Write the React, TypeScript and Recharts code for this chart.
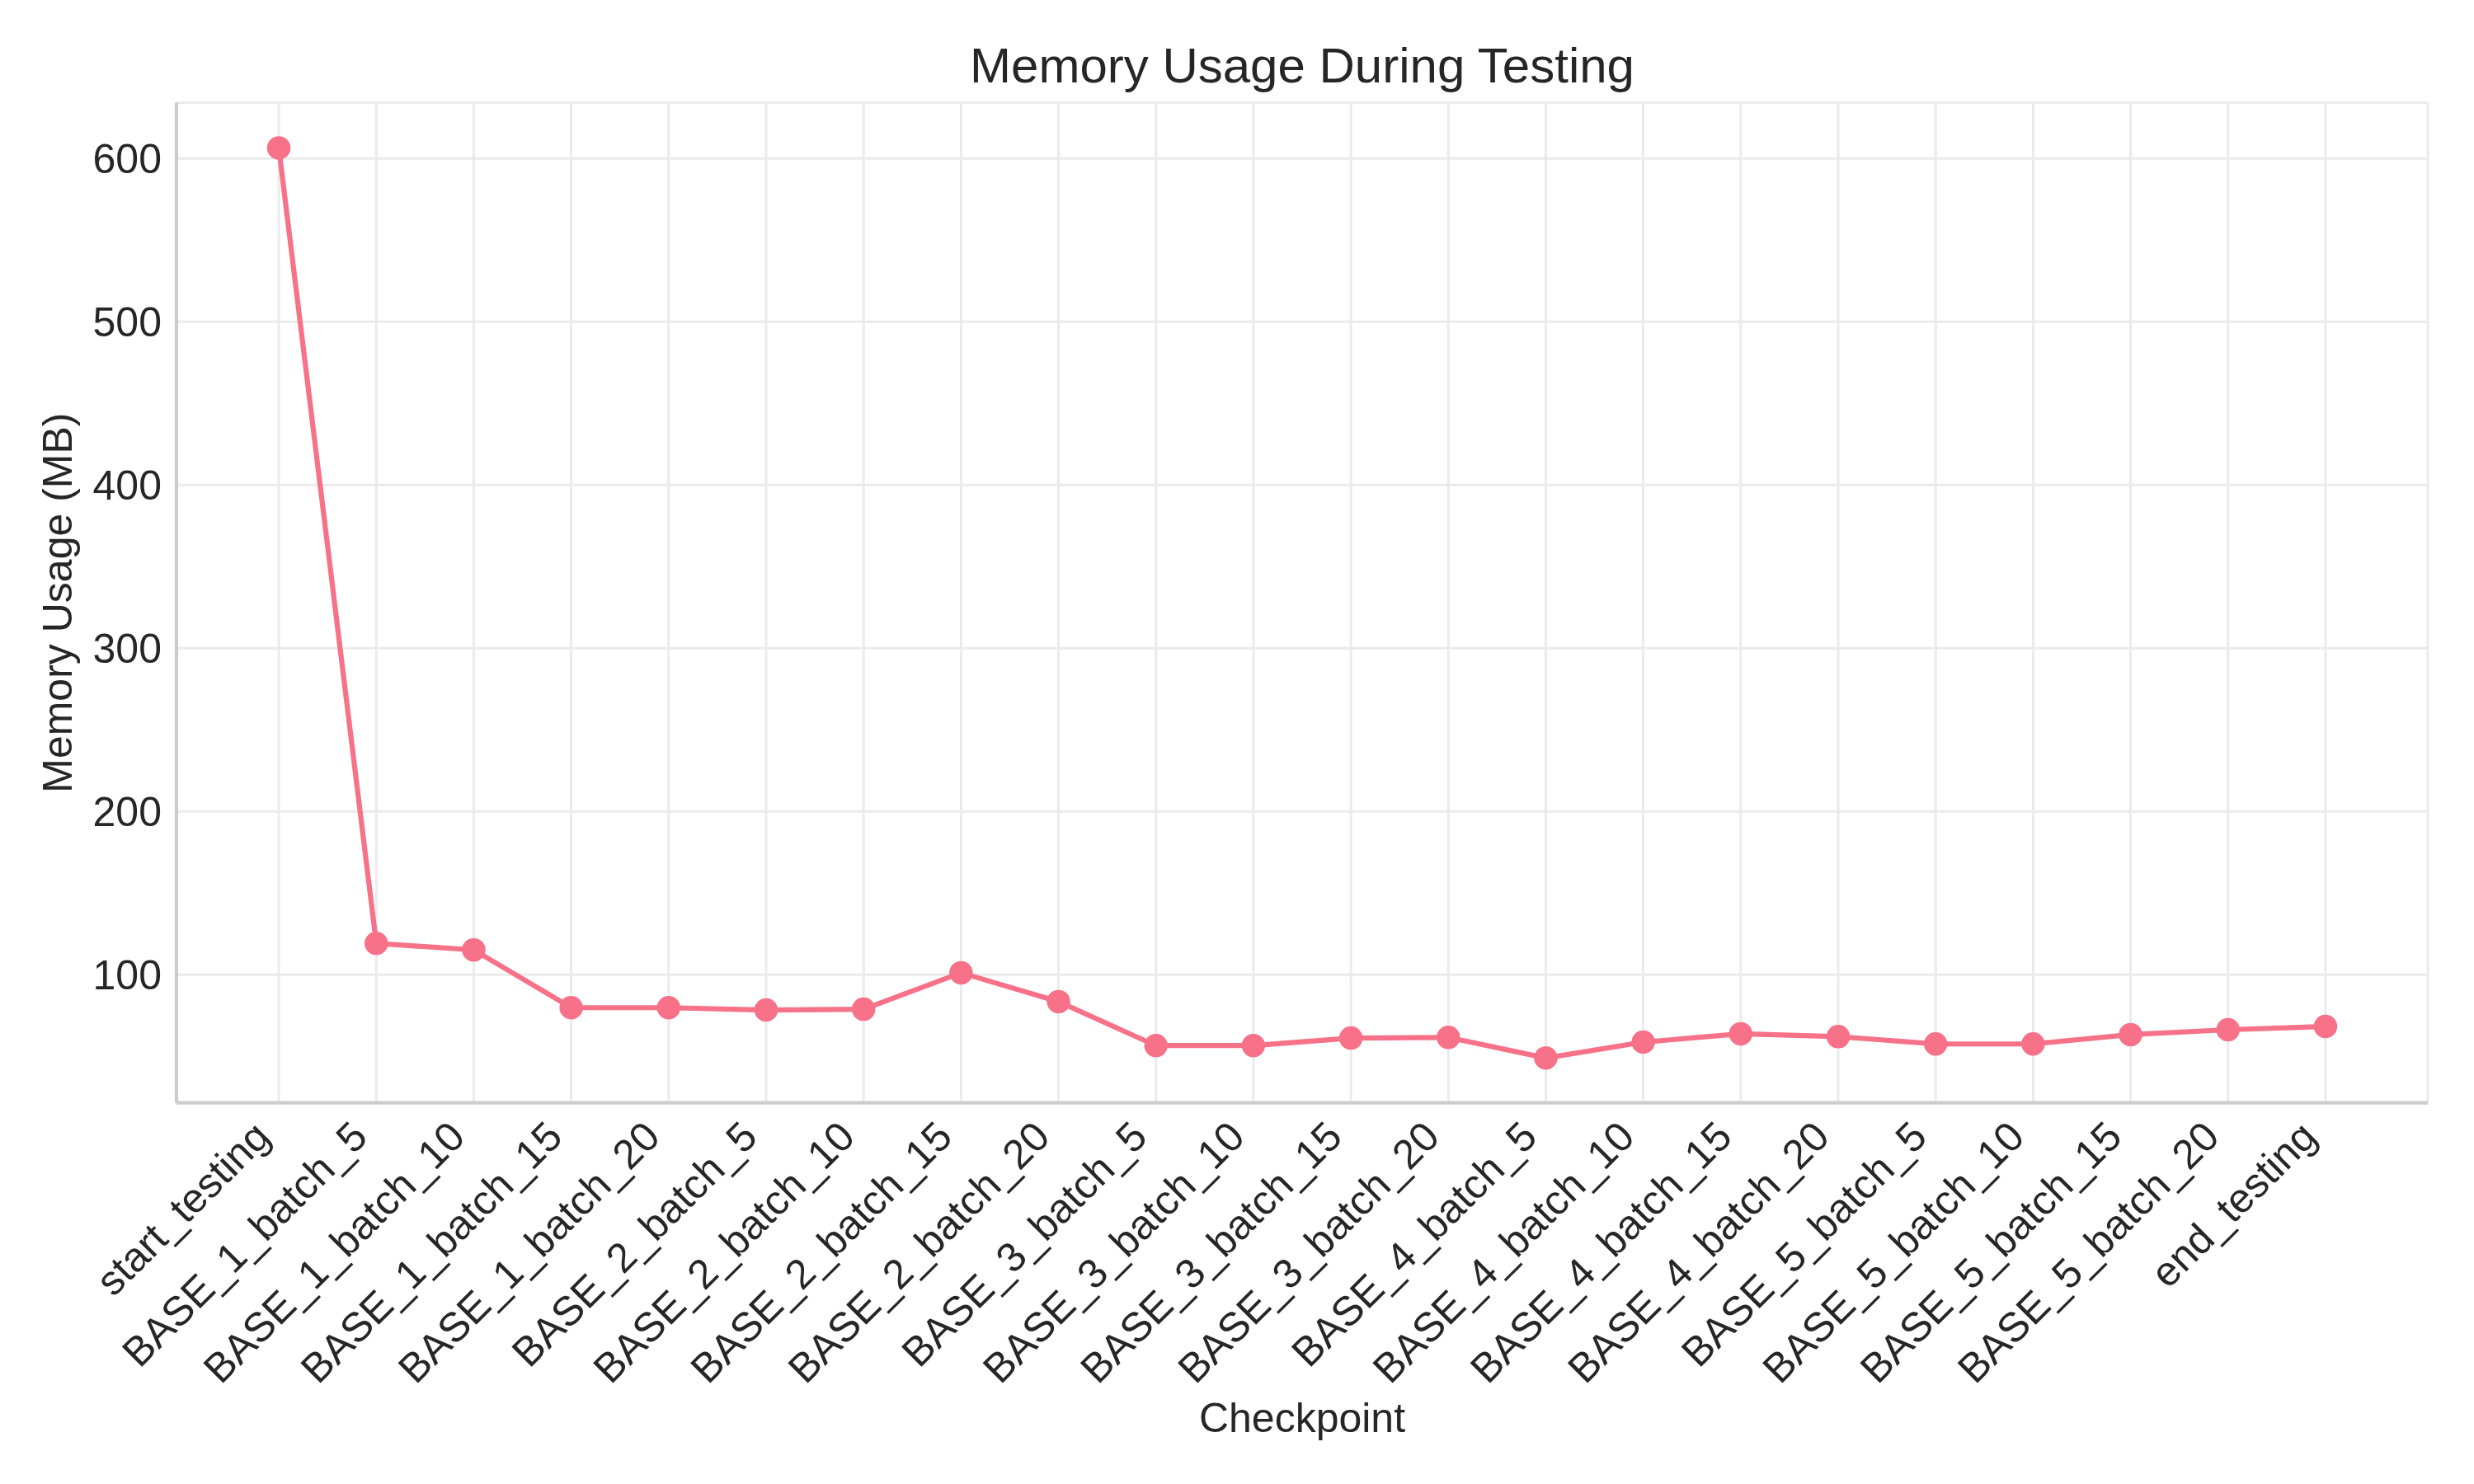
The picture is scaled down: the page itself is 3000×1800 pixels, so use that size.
import React from 'react';
import { LineChart, Line, XAxis, YAxis, CartesianGrid, Label } from 'recharts';

const categories = [
  'start_testing',
  'BASE_1_batch_5',
  'BASE_1_batch_10',
  'BASE_1_batch_15',
  'BASE_1_batch_20',
  'BASE_2_batch_5',
  'BASE_2_batch_10',
  'BASE_2_batch_15',
  'BASE_2_batch_20',
  'BASE_3_batch_5',
  'BASE_3_batch_10',
  'BASE_3_batch_15',
  'BASE_3_batch_20',
  'BASE_4_batch_5',
  'BASE_4_batch_10',
  'BASE_4_batch_15',
  'BASE_4_batch_20',
  'BASE_5_batch_5',
  'BASE_5_batch_10',
  'BASE_5_batch_15',
  'BASE_5_batch_20',
  'end_testing',
];

const memoryMB = [
  606.5, 119.2, 115.2, 79.8, 79.8, 78.4, 78.9, 101.2, 83.5, 56.6, 56.6,
  61.2, 61.6, 49.0, 58.7, 63.8, 62.1, 57.6, 57.6, 63.3, 66.3, 68.3,
];

const yTicks = [100, 200, 300, 400, 500, 600];
const yDomain = [21.5, 634.2];
const xTicks = categories.map((_, i) => i);
const xDomain = [-1.05, categories.length - 1 + 1.05];

const data = categories.map((c, i) => ({ idx: i, name: c, memory: memoryMB[i] }));

const FONT = '"Liberation Sans", Arial, Helvetica, sans-serif';
const TEXT = '#262626';
const EDGE = '#cccccc';
const GRID = '#ebebeb';
const LINE = '#f77189';

const XTick = (props: any) => {
  const { x, y, payload } = props;
  const label = categories[payload.value] ?? '';
  return (
    <g transform={`translate(${x},${y})`}>
      <text
        x={-8}
        y={44}
        transform="rotate(-45, -8, 44)"
        textAnchor="end"
        fontSize={50}
        fill={TEXT}
        fontFamily={FONT}
      >
        {label}
      </text>
    </g>
  );
};

export default function App() {
  return (
    <div
      style={{
        position: 'absolute',
        left: 0,
        top: 0,
        width: 3000,
        height: 1800,
        background: '#ffffff',
        fontFamily: FONT,
      }}
    >
      <svg
        width={3000}
        height={124}
        style={{ position: 'absolute', left: 0, top: 0 }}
      >
        <text
          x={1579}
          y={100}
          textAnchor="middle"
          fontSize={60}
          fill={TEXT}
          fontFamily={FONT}
        >
          Memory Usage During Testing
        </text>
      </svg>
      <div style={{ position: 'absolute', left: 0, top: 0 }}>
        <LineChart
          width={3000}
          height={1800}
          data={data}
          margin={{ top: 124.6, right: 56, bottom: 0, left: 0 }}
        >
          <CartesianGrid stroke={GRID} strokeWidth={3} />
          <XAxis
            dataKey="idx"
            type="number"
            domain={xDomain}
            ticks={xTicks}
            interval={0}
            height={462.3}
            tickSize={0}
            tickMargin={0}
            tickLine={false}
            axisLine={{ stroke: EDGE, strokeWidth: 4.2 }}
            tick={<XTick />}
            allowDataOverflow
          >
            <Label
              value="Checkpoint"
              position="insideBottom"
              offset={63}
              fontSize={50}
              fill={TEXT}
              fontFamily={FONT}
            />
          </XAxis>
          <XAxis
            xAxisId="top"
            orientation="top"
            type="number"
            domain={xDomain}
            height={0}
            tick={false}
            tickLine={false}
            axisLine={{ stroke: EDGE, strokeWidth: 4.2 }}
          />
          <YAxis
            type="number"
            domain={yDomain}
            ticks={yTicks}
            width={214}
            tickSize={0}
            tickMargin={18}
            tickLine={false}
            axisLine={{ stroke: EDGE, strokeWidth: 4.2 }}
            tick={{ fontSize: 50, fill: TEXT, fontFamily: FONT }}
            allowDataOverflow
          >
            <Label
              value="Memory Usage (MB)"
              angle={-90}
              position="insideLeft"
              offset={69}
              fontSize={50}
              fill={TEXT}
              fontFamily={FONT}
              style={{ textAnchor: 'middle' }}
            />
          </YAxis>
          <YAxis
            yAxisId="right"
            orientation="right"
            type="number"
            domain={yDomain}
            width={0}
            tick={false}
            tickLine={false}
            axisLine={{ stroke: EDGE, strokeWidth: 4.2 }}
          />
          <Line
            type="linear"
            dataKey="memory"
            stroke={LINE}
            strokeWidth={6.2}
            dot={{ r: 12.5, fill: LINE, stroke: LINE, strokeWidth: 3.5 }}
            activeDot={false}
            isAnimationActive={false}
          />
        </LineChart>
      </div>
    </div>
  );
}
